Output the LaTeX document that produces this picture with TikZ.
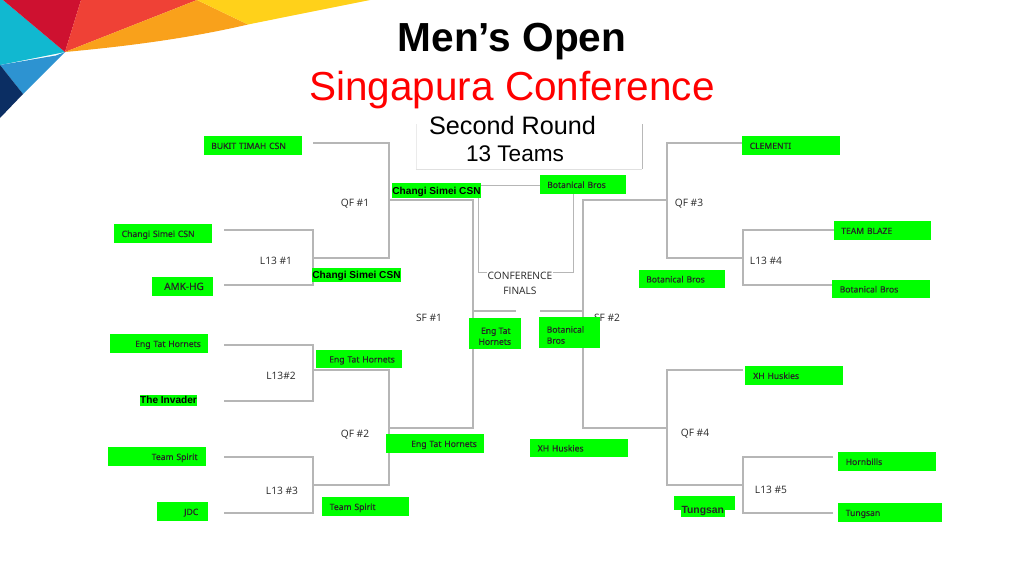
\documentclass[tikz,border=0pt]{standalone}
\usepackage{fontspec}
\setmainfont{Liberation Sans}
\newfontfamily\labelfont{Open Sans}
\newfontfamily\teamfont[FakeBold=0.35]{Noto Sans}
\definecolor{teamgreen}{RGB}{0,255,0}
\definecolor{linegray}{RGB}{182,182,182}
\tikzset{
  bracket/.style={color=linegray,line width=1.1pt,line join=miter},
  teambox/.style={fill=teamgreen,anchor=north west,inner xsep=0pt,inner ysep=0pt,align=left,
    minimum height=18.5pt,text height=8.5pt,text depth=1.5pt,font=\teamfont\fontsize{8.6}{10.5}\selectfont,text=black!85},
  tightbox/.style={fill=teamgreen,inner sep=0pt,text=black,text height=9.9pt,text depth=2.1pt,font=\bfseries\fontsize{10.1}{12}\selectfont},
  roundlabel/.style={inner sep=0pt,font=\labelfont\fontsize{10.2}{15}\selectfont,text=black!85,align=center},
}
\begin{document}
\begin{tikzpicture}[x=1pt,y=1pt,yscale=-1,xscale=1]
\useasboundingbox (0,0) rectangle (1024,576);

%Shape: corner banner
\fill [color={rgb, 255:red, 17; green, 184; blue, 208 }] (0,0) -- (3,0) -- (65,52) -- (0,65) -- cycle ;
\fill [color={rgb, 255:red, 206; green, 17; blue, 48 }] (3,0) -- (81,0) -- (65,52) -- cycle ;
\fill [color={rgb, 255:red, 239; green, 65; blue, 54 }] (81,0) -- (197,0) -- (65,52) -- cycle ;
\fill [color={rgb, 255:red, 249; green, 161; blue, 27 }] (197,0) -- (248,24.5) .. controls (190,38) and (130,46) .. (65,52) -- cycle ;
\fill [color={rgb, 255:red, 255; green, 209; blue, 26 }] (197,0) -- (370,0) .. controls (330,8) and (290,16) .. (248,24.5) -- cycle ;
\fill [color={rgb, 255:red, 45; green, 147; blue, 209 }] (0,65) -- (56,55.5) -- (65,52) -- (23,94) -- cycle ;
\fill [color={rgb, 255:red, 11; green, 46; blue, 99 }] (0,65) -- (23,94) -- (0,118) -- cycle ;

%Titles
\node (title) at (512,41.5) {\bfseries\fontsize{40.6}{46}\selectfont Men’s Open};
\node [text={rgb, 255:red, 255; green, 0; blue, 0 }] (conference) at (512,90) {\fontsize{40.5}{46}\selectfont Singapura Conference};

%Straight Lines: round panel
\coordinate (panelTL) at (416,124);
\coordinate (panelBL) at (416,169);
\coordinate (panelBR) at (642,169);
\coordinate (panelTR) at (642,124);
\draw [color=black!8,line width=1pt] (panelTL) -- (panelBL) ;
\draw [color=black!12,line width=1pt] (panelBL) -- (panelBR) ;
\draw [color=black!28,line width=1pt] (panelBR) -- (panelTR) ;
\node (secondround) at (512.5,125) {\fontsize{25.2}{30}\selectfont Second Round};
\node (thirteen) at (515,153.5) {\fontsize{22.6}{28}\selectfont 13 Teams};

%Coordinates: bracket ends, left side
\coordinate (bukit) at (313,143);
\coordinate (qfaTop) at (389,143);
\coordinate (qfaBot) at (389,258);
\coordinate (qfaMid) at (389,200);
\coordinate (sfaTop) at (473,200);
\coordinate (sfaBot) at (473,428);
\coordinate (sfaMid) at (473,311);
\coordinate (sfaEnd) at (516,311);
\coordinate (qfbMid) at (389,428);
\coordinate (lmaIn) at (224,230);
\coordinate (lmaTop) at (313,230);
\coordinate (lmaMid) at (313,258);
\coordinate (lmaBot) at (313,285);
\coordinate (lmaOut) at (224,285);
\coordinate (lmbIn) at (224,345);
\coordinate (lmbTop) at (313,345);
\coordinate (lmbMid) at (313,370);
\coordinate (lmbBot) at (313,401);
\coordinate (lmbOut) at (224,401);
\coordinate (qfbTop) at (389,370);
\coordinate (qfbBot) at (389,485);
\coordinate (lmcIn) at (224,457);
\coordinate (lmcTop) at (313,457);
\coordinate (lmcMid) at (313,485);
\coordinate (lmcBot) at (313,513);
\coordinate (lmcOut) at (224,513);

%Coordinates: bracket ends, right side
\coordinate (clem) at (742,143);
\coordinate (qfcTop) at (667,143);
\coordinate (qfcMid) at (667,200);
\coordinate (qfcBot) at (667,258);
\coordinate (sfbTop) at (583,200);
\coordinate (sfbBot) at (583,428);
\coordinate (sfbMid) at (583,311);
\coordinate (sfbEnd) at (540,311);
\coordinate (lmdIn) at (834,230);
\coordinate (lmdTop) at (743,230);
\coordinate (lmdMid) at (743,258);
\coordinate (lmdBot) at (743,285);
\coordinate (lmdOut) at (834,285);
\coordinate (husk) at (743,370);
\coordinate (qfdTop) at (667,370);
\coordinate (qfdMid) at (667,428);
\coordinate (qfdBot) at (667,485);
\coordinate (lmeIn) at (833,457);
\coordinate (lmeTop) at (743,457);
\coordinate (lmeMid) at (743,485);
\coordinate (lmeBot) at (743,513);
\coordinate (lmeOut) at (833,513);

%Coordinates: finals
\coordinate (finalA) at (478,185);
\coordinate (finalB) at (478,272);
\coordinate (finalC) at (573,272);
\coordinate (finalD) at (573,185);

%Straight Lines: left side
\draw [bracket] (bukit) -- (qfaTop) -- (qfaBot) -- (lmaMid) ;
\draw [bracket] (lmaIn) -- (lmaTop) -- (lmaBot) -- (lmaOut) ;
\draw [bracket] (lmbIn) -- (lmbTop) -- (lmbBot) -- (lmbOut) ;
\draw [bracket] (lmcIn) -- (lmcTop) -- (lmcBot) -- (lmcOut) ;
\draw [bracket] (lmbMid) -- (qfbTop) -- (qfbBot) -- (lmcMid) ;
\draw [bracket] (qfaMid) -- (sfaTop) -- (sfaBot) -- (qfbMid) ;
\draw [bracket] (sfaMid) -- (sfaEnd) ;

%Straight Lines: right side
\draw [bracket] (clem) -- (qfcTop) -- (qfcBot) -- (lmdMid) ;
\draw [bracket] (lmdIn) -- (lmdTop) -- (lmdBot) -- (lmdOut) ;
\draw [bracket] (husk) -- (qfdTop) -- (qfdBot) -- (lmeMid) ;
\draw [bracket] (lmeIn) -- (lmeTop) -- (lmeBot) -- (lmeOut) ;
\draw [bracket] (qfcMid) -- (sfbTop) -- (sfbBot) -- (qfdMid) ;
\draw [bracket] (sfbMid) -- (sfbEnd) ;

%Straight Lines: finals
\draw [color=linegray,line width=0.9pt] (finalD) -- (finalA) -- (finalB) -- (finalC) -- (573,190) ;

%Labels
\node [roundlabel] (qfa) at (355,203.5) {QF \#1};
\node [roundlabel] (qfb) at (355,434.5) {QF \#2};
\node [roundlabel] (qfc) at (689,203.5) {QF \#3};
\node [roundlabel] (qfd) at (695,433.5) {QF \#4};
\node [roundlabel] (lma) at (276,261) {L13 \#1};
\node [roundlabel] (lmb) at (281,376) {L13\#2};
\node [roundlabel] (lmc) at (282,491) {L13 \#3};
\node [roundlabel] (lmd) at (766,261) {L13 \#4};
\node [roundlabel] (lme) at (771,490) {L13 \#5};
\node [roundlabel] (sfa) at (429,318) {SF \#1};
\node [roundlabel] (sfb) at (607,318) {SF \#2};
\node [roundlabel,fill=white,inner sep=1pt] (finals) at (520,283.5) {CONFERENCE\\FINALS};

%Team boxes, left side
\node [teambox,text width=98pt] (bukitBox) at (203.5,136) {\hspace*{7.5pt}BUKIT TIMAH CSN};
\node [teambox,text width=98pt] (changiA) at (114,224) {\hspace*{7.5pt}Changi Simei CSN};
\node [teambox,text width=61pt,font=\teamfont\fontsize{10}{12}\selectfont] (amk) at (151.5,277) {\hspace*{12.5pt}AMK-HG};
\node [tightbox,minimum width=89pt,minimum height=14.5pt] (changiB) at (356.5,275) {Changi Simei CSN};
\node [tightbox,minimum width=89pt,minimum height=15pt] (changiC) at (436.5,190.5) {Changi Simei CSN};
\node [teambox,text width=98pt] (engA) at (110,334) {\hspace*{25pt}Eng Tat Hornets};
\node [teambox,text width=86pt] (engB) at (316,349.5) {\hspace*{13pt}Eng Tat Hornets};
\node [tightbox,text height=7.5pt,minimum width=57pt,minimum height=11pt] (invader) at (168.5,400.5) {The Invader};
\node [teambox,text width=98pt] (spiritA) at (108,447) {\hspace*{43.5pt}Team Spirit};
\node [teambox,text width=51pt] (jdc) at (157,502) {\hspace*{27pt}JDC};
\node [teambox,text width=86.5pt] (spiritB) at (322,497) {\hspace*{7.5pt}Team Spirit};
\node [teambox,text width=98pt] (engC) at (386,434) {\hspace*{25pt}Eng Tat Hornets};

%Team boxes, centre
\node [teambox,text width=86pt] (botA) at (540,175) {\hspace*{7pt}Botanical Bros};
\node [fill=teamgreen,inner sep=0pt,minimum width=51.5pt,minimum height=30.5pt,align=center,font=\teamfont\fontsize{8.6}{11}\selectfont,text=black!85] (engD) at (494.8,333.3) {\rule{0pt}{12pt}\hspace*{2pt}Eng Tat\\Hornets};
\node [fill=teamgreen,anchor=north west,inner xsep=0pt,inner ysep=0pt,text width=61pt,minimum height=31pt,align=left,font=\teamfont\fontsize{8.6}{11}\selectfont,text=black!85] (botB) at (539,316.5) {\rule{0pt}{12pt}\hspace*{7.5pt}Botanical\\\hspace*{7.5pt}Bros};
\node [teambox,text width=98pt] (huskA) at (530,438.5) {\hspace*{7.5pt}XH Huskies};

%Team boxes, right side
\node [teambox,text width=97.5pt] (clemBox) at (742,136) {\hspace*{7.5pt}CLEMENTI};
\node [teambox,text width=97.5pt] (blaze) at (833.5,221) {\hspace*{7.5pt}TEAM BLAZE};
\node [teambox,text width=86pt] (botC) at (639,269.5) {\hspace*{7pt}Botanical Bros};
\node [teambox,text width=97.5pt] (botD) at (832,279.5) {\hspace*{7.5pt}Botanical Bros};
\node [teambox,text width=98pt] (huskB) at (745,366) {\hspace*{8pt}XH Huskies};
\node [teambox,text width=98pt] (hornbills) at (838,452) {\hspace*{7.5pt}Hornbills};
\node [teambox,text width=104pt] (tungA) at (838,503) {\hspace*{7.5pt}Tungsan};
\node [fill=teamgreen,inner sep=0pt,minimum width=61pt,minimum height=13.5pt] (tungBox) at (704,503.2) {};
\node [tightbox,font=\fontsize{10.4}{12}\selectfont\bfseries,text=black!85,minimum width=43.5pt,minimum height=13.5pt] (tungB) at (702.8,510) {Tungsan};
\end{tikzpicture}
\end{document}
